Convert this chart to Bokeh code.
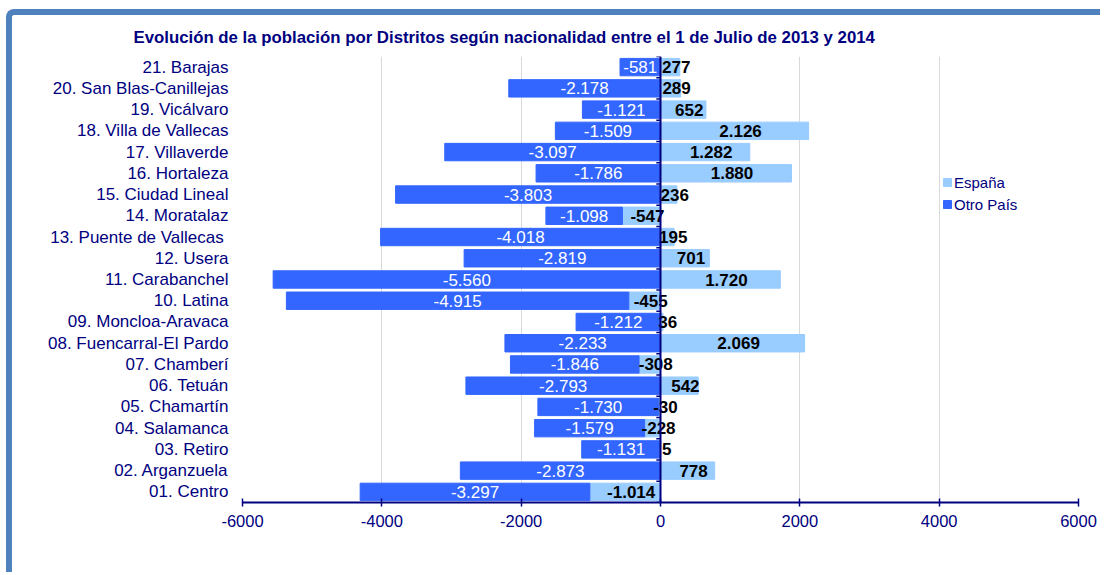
from bokeh.plotting import figure
from bokeh.models import FixedTicker, Span, Legend, LegendItem, ColumnDataSource
from bokeh.core.properties import value
from bokeh.embed import file_html
from bokeh.resources import INLINE

distritos = ["01. Centro", "02. Arganzuela", "03. Retiro", "04. Salamanca", "05. Chamartín",
             "06. Tetuán", "07. Chamberí", "08. Fuencarral-El Pardo", "09. Moncloa-Aravaca",
             "10. Latina", "11. Carabanchel", "12. Usera", "13.  Puente de Vallecas",
             "14. Moratalaz", "15. Ciudad Lineal", "16. Hortaleza", "17. Villaverde",
             "18. Villa de Vallecas", "19. Vicálvaro", "20. San Blas-Canillejas", "21. Barajas"]
espana = [-1014, 778, 5, -228, -30, 542, -308, 2069, 36, -455, 1720, 701, 195, -547, 236,
          1880, 1282, 2126, 652, 289, 277]
otro_pais = [-3297, -2873, -1131, -1579, -1730, -2793, -1846, -2233, -1212, -4915, -5560,
             -2819, -4018, -1098, -3803, -1786, -3097, -1509, -1121, -2178, -581]
x_ticks = [-6000, -4000, -2000, 0, 2000, 4000, 6000]
titulo = "Evolución de la población por Distritos según nacionalidad entre el 1 de Julio de 2013 y 2014"

NAVY = "#000080"
FONT = "Liberation Sans"


def fmt(v):
    return f"{v:,}".replace(",", ".")


pos = list(range(1, len(distritos) + 1))
base_otro = [min(e, 0) for e in espana]
end_otro = [b + o for b, o in zip(base_otro, otro_pais)]

src = ColumnDataSource(dict(
    y=pos,
    esp=espana,
    esp_mid=[e / 2 for e in espana],
    esp_lbl=[fmt(e) for e in espana],
    ob=base_otro,
    oe=end_otro,
    o_mid=[(b + e) / 2 for b, e in zip(base_otro, end_otro)],
    o_lbl=[fmt(o) for o in otro_pais],
))

p = figure(frame_width=836, frame_height=446, x_range=(-6000, 6000), y_range=(0.5, 21.5),
           output_backend="svg", toolbar_location=None,
           min_border_left=230, min_border_right=22, min_border_top=41, min_border_bottom=70)
p.outline_line_color = None
p.background_fill_color = "white"
p.border_fill_color = "white"

p.styles = {"border-left": "6px solid #4F81BD", "border-top": "6px solid #4F81BD",
            "border-top-left-radius": "8px", "margin-left": "6px", "margin-top": "9px"}

p.title.text = titulo
p.title.align = "left"
p.title.offset = -109
p.title.text_font = FONT
p.title.text_font_size = "16.8px"
p.title.text_font_style = "bold"
p.title.text_color = NAVY
p.title.standoff = 19

# x axis
p.xaxis.ticker = FixedTicker(ticks=x_ticks)
p.xaxis.major_label_overrides = {t: str(t) for t in x_ticks}
p.xaxis.axis_line_color = NAVY
p.xaxis.axis_line_width = 2
p.xaxis.major_tick_line_color = NAVY
p.xaxis.major_tick_line_width = 1.5
p.xaxis.major_tick_in = 4
p.xaxis.major_tick_out = 4
p.xaxis.minor_tick_line_color = None
p.xaxis.major_label_standoff = 8
p.xaxis.major_label_text_font = FONT
p.xaxis.major_label_text_font_size = "16.5px"
p.xaxis.major_label_text_color = NAVY

# y axis (category labels)
p.yaxis.ticker = FixedTicker(ticks=pos)
p.yaxis.major_label_overrides = {i: d for i, d in zip(pos, distritos)}
p.yaxis.axis_line_color = None
p.yaxis.major_tick_line_color = None
p.yaxis.minor_tick_line_color = None
p.yaxis.major_tick_out = 0
p.yaxis.major_tick_in = 0
p.yaxis.major_label_standoff = 14
p.yaxis.major_label_text_font = FONT
p.yaxis.major_label_text_font_size = "17px"
p.yaxis.major_label_text_color = NAVY

p.xgrid.ticker = FixedTicker(ticks=x_ticks)
p.xgrid.grid_line_color = "#D9D9D9"
p.ygrid.grid_line_color = None

r_esp = p.hbar(y="y", left=0, right="esp", height=0.82, source=src,
               fill_color="#99CCFF", line_color="#99CCFF")
r_otro = p.hbar(y="y", left="ob", right="oe", height=0.82, source=src,
                fill_color="#3366FF", line_color="#3366FF")

p.add_layout(Span(location=0, dimension="height", line_color=NAVY, line_width=2))
bounds = [i + 0.5 for i in range(len(distritos) + 1)]
p.segment(x0=[-60] * len(bounds), x1=[0] * len(bounds), y0=bounds, y1=bounds,
          line_color=NAVY, line_width=1.5)

p.text(x="o_mid", y="y", text="o_lbl", source=src, text_align="center",
       text_baseline="middle", text_color="white", text_font=value(FONT),
       text_font_size="17px")
p.text(x="esp_mid", y="y", text="esp_lbl", source=src, text_align="center",
       text_baseline="middle", text_color="black", text_font=value(FONT),
       text_font_size="17px", text_font_style="bold", x_offset=6)

legend = Legend(items=[LegendItem(label="España", renderers=[r_esp]),
                       LegendItem(label="Otro País", renderers=[r_otro])],
                location=(700, 288), padding=0, margin=0, spacing=2,
                glyph_width=10, glyph_height=10, label_height=20, label_standoff=2,
                label_text_font=FONT, label_text_font_size="15px", label_text_color=NAVY,
                background_fill_alpha=0, border_line_color=None)
p.add_layout(legend)

open("out.html", "w").write(file_html(p, INLINE))
